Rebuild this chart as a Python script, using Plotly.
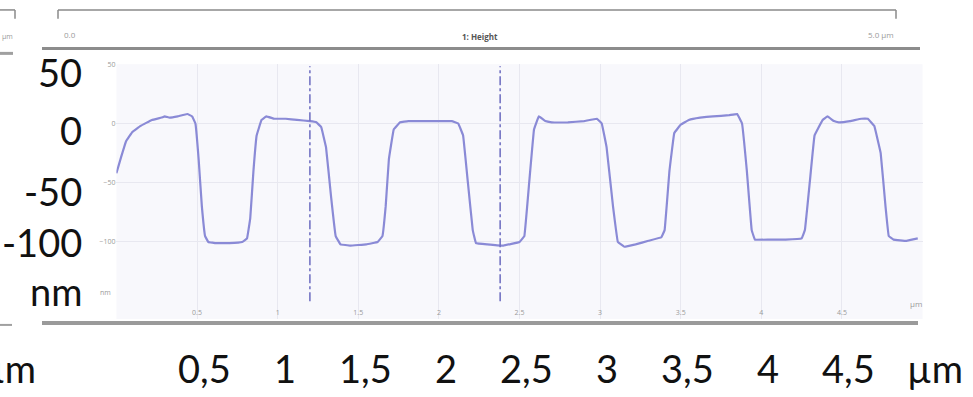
import plotly.graph_objects as go

W, H = 973, 397

# Height profile (µm, nm)
x_um = [0.00, 0.03, 0.06, 0.10, 0.15, 0.22, 0.28, 0.30, 0.33, 0.38, 0.44, 0.47, 0.49, 0.51, 0.53, 0.55,
        0.57, 0.62, 0.70, 0.78, 0.81, 0.83, 0.85, 0.87, 0.90, 0.93, 0.98, 1.05, 1.12, 1.20, 1.24, 1.27,
        1.30, 1.33, 1.36, 1.39, 1.45, 1.55, 1.62, 1.65, 1.67, 1.69, 1.72, 1.76, 1.81, 1.90, 2.00, 2.08,
        2.12, 2.15, 2.18, 2.21, 2.23, 2.30, 2.40, 2.50, 2.53, 2.56, 2.59, 2.62, 2.66, 2.70, 2.80, 2.90,
        2.98, 3.01, 3.04, 3.08, 3.11, 3.15, 3.22, 3.30, 3.38, 3.40, 3.43, 3.46, 3.50, 3.55, 3.62, 3.70,
        3.80, 3.85, 3.88, 3.91, 3.94, 3.96, 4.05, 4.15, 4.25, 4.27, 4.30, 4.33, 4.38, 4.41, 4.45, 4.48,
        4.55, 4.62, 4.66, 4.70, 4.74, 4.77, 4.79, 4.82, 4.90, 4.97]
height_nm = [-42, -28, -15, -7, -2, 3, 5, 6, 5, 6, 8, 6, 0, -30, -70, -95,
             -100, -101, -101, -100, -97, -80, -40, -10, 3, 6, 4, 4, 3, 2, 1, -3,
             -20, -60, -95, -102, -103, -102, -100, -95, -70, -30, -5, 1, 2, 2, 2, 2,
             0, -10, -50, -90, -101, -102, -103, -100, -95, -50, -5, 6, 2, 1, 1, 2,
             4, 0, -20, -70, -100, -104, -102, -99, -96, -90, -40, -8, -1, 3, 5, 6,
             7, 8, 0, -40, -90, -98, -98, -98, -97, -90, -50, -10, 3, 6, 2, 1,
             2, 4, 4, -2, -25, -70, -95, -98, -99, -97]

cursor_x = [1.20, 2.38]

small_x_ticks = [0.5, 1, 1.5, 2, 2.5, 3, 3.5, 4, 4.5]
small_x_text = ["0.5", "1", "1.5", "2", "2.5", "3", "3.5", "4", "4.5"]
small_y_ticks = [50, 0, -50, -100]

big_x_labels = ["0,5", "1", "1,5", "2", "2,5", "3", "3,5", "4", "4,5"]
big_y_labels = ["50", "0", "-50", "-100", "nm"]

def px(x):
    return x / W

def py(y):
    return 1 - y / H

LINE = "#8a8ad6"
GRAYTXT = "#9a9a9a"

fig = go.Figure()
fig.add_trace(go.Scatter(x=x_um, y=height_nm, mode="lines",
                         line=dict(color=LINE, width=2.2, shape="spline", smoothing=0.15),
                         hoverinfo="skip", showlegend=False))

shapes = []
for cx in cursor_x:
    shapes.append(dict(type="line", xref="x", yref="paper", x0=cx, x1=cx,
                       y0=py(300), y1=py(62), line=dict(color="#7474c4", width=1.6, dash="dashdot")))
# header bracket and bars
shapes += [
    dict(type="line", xref="paper", yref="paper", x0=px(58), x1=px(896), y0=py(5), y1=py(5),
         line=dict(color="#8a8a8a", width=1.5)),
    dict(type="line", xref="paper", yref="paper", x0=px(58), x1=px(58), y0=py(5), y1=py(14),
         line=dict(color="#8a8a8a", width=1.5)),
    dict(type="line", xref="paper", yref="paper", x0=px(896), x1=px(896), y0=py(5), y1=py(14),
         line=dict(color="#8a8a8a", width=1.5)),
    dict(type="line", xref="paper", yref="paper", x0=px(42), x1=px(920), y0=py(44), y1=py(44),
         line=dict(color="#8c8c8c", width=3)),
    dict(type="line", xref="paper", yref="paper", x0=px(42), x1=px(918), y0=py(322), y1=py(322),
         line=dict(color="#9a9a9a", width=4)),
    # partial left panel
    dict(type="line", xref="paper", yref="paper", x0=0, x1=px(15), y0=py(5), y1=py(5),
         line=dict(color="#8a8a8a", width=1.5)),
    dict(type="line", xref="paper", yref="paper", x0=px(15), x1=px(15), y0=py(5), y1=py(14),
         line=dict(color="#8a8a8a", width=1.5)),
    dict(type="line", xref="paper", yref="paper", x0=0, x1=px(13), y0=py(49), y1=py(49),
         line=dict(color="#a0a0a0", width=3)),
    dict(type="line", xref="paper", yref="paper", x0=0, x1=px(12), y0=py(324), y1=py(324),
         line=dict(color="#a0a0a0", width=2)),
]

ann = []
ann.append(dict(x=px(62), y=py(22), xref="paper", yref="paper", text="0.0", showarrow=False,
                xanchor="left", font=dict(size=8, color=GRAYTXT)))
ann.append(dict(x=px(480), y=py(24), xref="paper", yref="paper", text="<b>1: Height</b>", showarrow=False,
                font=dict(size=8, color="#555555")))
ann.append(dict(x=px(896), y=py(22), xref="paper", yref="paper", text="5.0 µm", showarrow=False,
                xanchor="right", font=dict(size=8, color=GRAYTXT)))
ann.append(dict(x=0, y=py(25), xref="paper", yref="paper", text="µm", showarrow=False,
                xanchor="left", font=dict(size=7, color=GRAYTXT)))
ann.append(dict(x=px(113), y=py(298), xref="paper", yref="paper", text="nm", showarrow=False,
                xanchor="right", font=dict(size=7, color=GRAYTXT)))
ann.append(dict(x=px(916), y=py(310), xref="paper", yref="paper", text="µm", showarrow=False,
                xanchor="center", font=dict(size=8, color=GRAYTXT)))

BIG = dict(family="Lato, 'Open Sans', sans-serif", size=38, color="#111111")
big_y_pos = [68, 127, 188, 240, 290]
for lab, yy in zip(big_y_labels, big_y_pos):
    ann.append(dict(x=px(84), y=py(yy), xref="paper", yref="paper", text=lab, showarrow=False,
                    xanchor="right", yanchor="middle", font=BIG))
for lab, xv in zip(big_x_labels, small_x_ticks):
    ann.append(dict(x=xv, y=py(368), xref="x", yref="paper", text=lab, showarrow=False,
                    xshift=7, xanchor="center", yanchor="middle", font=BIG))
ann.append(dict(x=px(935), y=py(368), xref="paper", yref="paper", text="µm", showarrow=False,
                xanchor="center", yanchor="middle", font=BIG))
ann.append(dict(x=px(38), y=py(368), xref="paper", yref="paper", text="µm", showarrow=False,
                xanchor="right", yanchor="middle", font=BIG))

fig.update_layout(
    width=W, height=H, margin=dict(l=0, r=0, t=0, b=0),
    paper_bgcolor="white", plot_bgcolor="#f8f8fc",
    shapes=shapes, annotations=ann, showlegend=False,
    xaxis=dict(range=[0, 5], domain=[px(116.4), px(922.6)], tickvals=small_x_ticks, ticktext=small_x_text,
               ticklabelposition="inside", ticks="", showgrid=True, gridcolor="#e8e8f0", gridwidth=1,
               zeroline=False, showline=False, tickfont=dict(size=7, color=GRAYTXT)),
    yaxis=dict(range=[-165, 50], domain=[py(318), py(60)], tickvals=small_y_ticks,
               ticks="", showgrid=True, gridcolor="#e8e8f0", zeroline=False, showline=False,
               tickfont=dict(size=7, color=GRAYTXT)),
)

fig.write_html("out.html", config={"displayModeBar": False},
               post_script="document.body.style.margin='0';document.body.style.overflow='hidden';")
